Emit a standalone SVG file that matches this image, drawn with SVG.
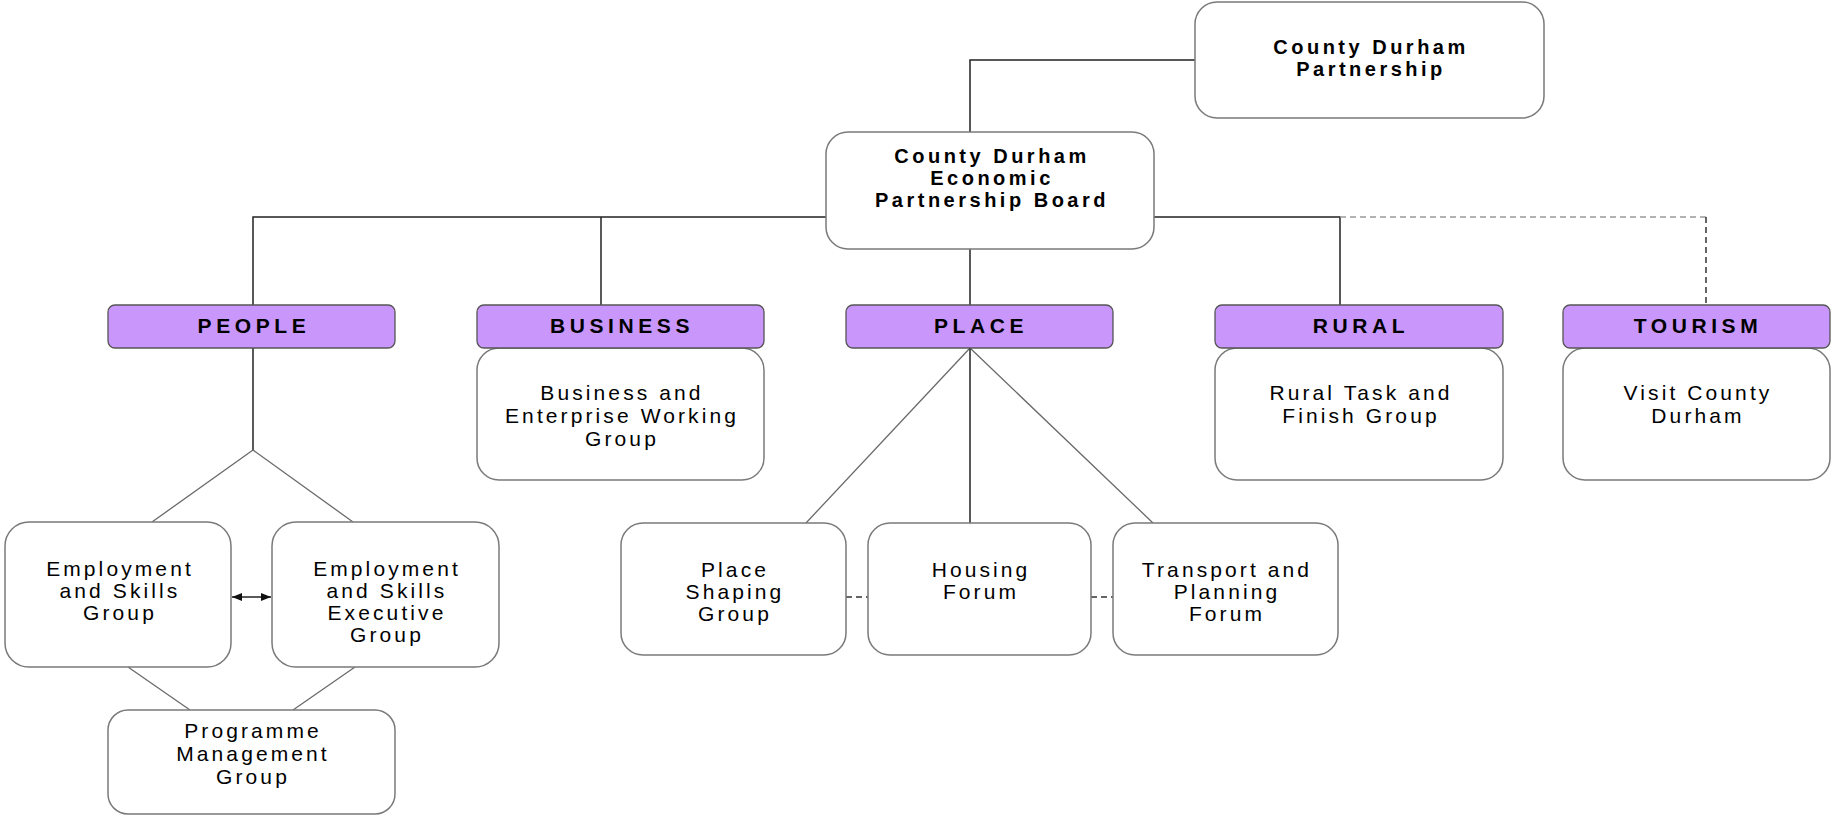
<svg xmlns="http://www.w3.org/2000/svg" width="1834" height="818" viewBox="0 0 1834 818">
<style>
.box{fill:#fff;stroke:#7a7a7a;stroke-width:1.5}
.hdr{fill:#c997fb;stroke:#555;stroke-width:1.3}
.t{font-family:"Liberation Sans",Arial,sans-serif;font-size:21px;fill:#000;text-anchor:middle;letter-spacing:3.1px}
.b{font-family:"Liberation Sans",Arial,sans-serif;font-size:20px;font-weight:bold;fill:#000;text-anchor:middle;letter-spacing:3.5px}
.h{font-family:"Liberation Sans",Arial,sans-serif;font-size:21px;font-weight:bold;fill:#000;text-anchor:middle;letter-spacing:4.6px}
.c{fill:none;stroke:#222;stroke-width:1.5}
.g{fill:none;stroke:#6a6a6a;stroke-width:1.3}
.d{fill:none;stroke:#333;stroke-width:1.5;stroke-dasharray:6 4}
.dl{fill:none;stroke:#9a9a9a;stroke-width:1.5;stroke-dasharray:6 4}
</style>
<defs>
<marker id="ah" viewBox="0 0 10 8" refX="10" refY="4" markerWidth="10" markerHeight="8" markerUnits="userSpaceOnUse" orient="auto-start-reverse">
<path d="M0,0 L10,4 L0,8 Z" fill="#111"/>
</marker>
</defs>
<rect width="1834" height="818" fill="#fff"/>
<g id="connectors">
<path class="c" d="M970,132 V60 H1195"/>
<path class="c" d="M253,305 V217 H826"/>
<path class="c" d="M601,217 V305"/>
<path class="c" d="M970,249 V305"/>
<path class="c" d="M1154,217 H1340 V305"/>
<path class="dl" d="M1340,217 H1706"/>
<path class="d" d="M1706,217 V305"/>
<path class="c" d="M253,348 V450"/>
<path class="g" d="M253,450 L152,522 M253,450 L353,522"/>
<path class="g" d="M128,667 L190,710 M355,667 L293,710"/>
<path class="c" d="M232,597 H271" marker-start="url(#ah)" marker-end="url(#ah)"/>
<path class="g" d="M970,348 L806,523 M970,348 L1153,523"/>
<path class="c" d="M970,348 V523"/>
<path class="d" d="M846,597 H868 M1091,597 H1113"/>
</g>
<g id="cdp">
<rect class="box" x="1195" y="2" width="349" height="116" rx="22"/>
<text class="b" x="1371" y="54">County Durham</text>
<text class="b" x="1371" y="76">Partnership</text>
</g>
<g id="board">
<rect class="box" x="826" y="132" width="328" height="117" rx="22"/>
<text class="b" x="992" y="163">County Durham</text>
<text class="b" x="992" y="185">Economic</text>
<text class="b" x="992" y="207">Partnership Board</text>
</g>
<g id="people">
<rect class="hdr" x="108" y="305" width="287" height="43" rx="7"/>
<text class="h" x="254" y="333">PEOPLE</text>
</g>
<g id="business">
<rect class="box" x="477" y="348" width="287" height="132" rx="22"/>
<rect class="hdr" x="477" y="305" width="287" height="43" rx="7"/>
<text class="h" x="622" y="333">BUSINESS</text>
</g>
<g id="bewg">
<text class="t" x="622" y="400">Business and</text>
<text class="t" x="622" y="423">Enterprise Working</text>
<text class="t" x="622" y="446">Group</text>
</g>
<g id="place">
<rect class="hdr" x="846" y="305" width="267" height="43" rx="7"/>
<text class="h" x="981" y="333">PLACE</text>
</g>
<g id="rural">
<rect class="box" x="1215" y="348" width="288" height="132" rx="22"/>
<rect class="hdr" x="1215" y="305" width="288" height="43" rx="7"/>
<text class="h" x="1361" y="333">RURAL</text>
</g>
<g id="rtfg">
<text class="t" x="1361" y="400">Rural Task and</text>
<text class="t" x="1361" y="423">Finish Group</text>
</g>
<g id="tourism">
<rect class="box" x="1563" y="348" width="267" height="132" rx="22"/>
<rect class="hdr" x="1563" y="305" width="267" height="43" rx="7"/>
<text class="h" x="1698" y="333">TOURISM</text>
</g>
<g id="vcd">
<text class="t" x="1698" y="400">Visit County</text>
<text class="t" x="1698" y="423">Durham</text>
</g>
<g id="esg">
<rect class="box" x="5" y="522" width="226" height="145" rx="24"/>
<text class="t" x="120" y="576">Employment</text>
<text class="t" x="120" y="598">and Skills</text>
<text class="t" x="120" y="620">Group</text>
</g>
<g id="eseg">
<rect class="box" x="272" y="522" width="227" height="145" rx="24"/>
<text class="t" x="387" y="576">Employment</text>
<text class="t" x="387" y="598">and Skills</text>
<text class="t" x="387" y="620">Executive</text>
<text class="t" x="387" y="642">Group</text>
</g>
<g id="pmg">
<rect class="box" x="108" y="710" width="287" height="104" rx="20"/>
<text class="t" x="253" y="738">Programme</text>
<text class="t" x="253" y="761">Management</text>
<text class="t" x="253" y="784">Group</text>
</g>
<g id="psg">
<rect class="box" x="621" y="523" width="225" height="132" rx="22"/>
<text class="t" x="735" y="577">Place</text>
<text class="t" x="735" y="599">Shaping</text>
<text class="t" x="735" y="621">Group</text>
</g>
<g id="hf">
<rect class="box" x="868" y="523" width="223" height="132" rx="22"/>
<text class="t" x="981" y="577">Housing</text>
<text class="t" x="981" y="599">Forum</text>
</g>
<g id="tpf">
<rect class="box" x="1113" y="523" width="225" height="132" rx="22"/>
<text class="t" x="1227" y="577">Transport and</text>
<text class="t" x="1227" y="599">Planning</text>
<text class="t" x="1227" y="621">Forum</text>
</g>
</svg>
